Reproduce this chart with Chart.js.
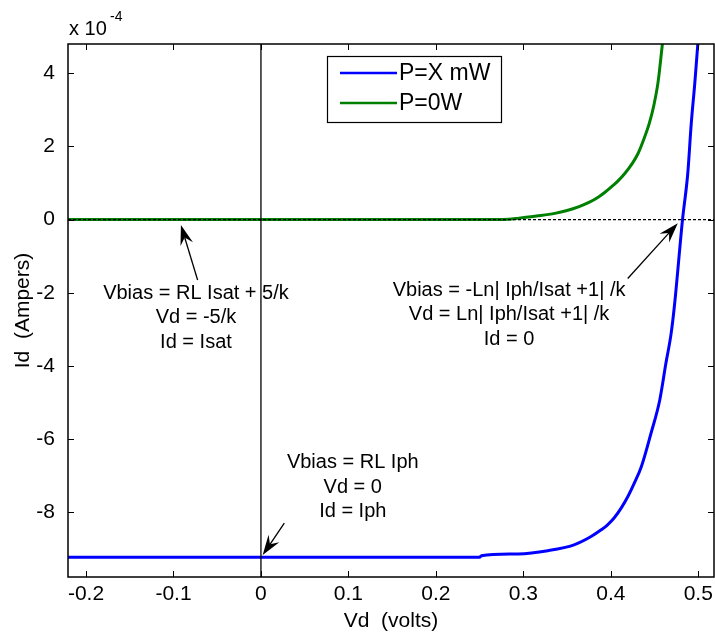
<!DOCTYPE html>
<html>
<head>
<meta charset="utf-8">
<script src="https://cdn.jsdelivr.net/npm/chart.js@4.4.1/dist/chart.umd.min.js"></script>
<style>
  html, body { margin: 0; padding: 0; background: #ffffff; }
  #wrap { width: 715px; height: 637px; }
</style>
</head>
<body>
<div id="wrap"><canvas id="chart" width="715" height="637"></canvas></div>
<script>
// Vd in volts, Id in units of 1e-4 A
const vdLight = [-0.2206, 0.25, 0.252, 0.294, 0.328, 0.358, 0.377, 0.389, 0.396, 0.404, 0.412, 0.420, 0.427, 0.435, 0.446, 0.456, 0.463, 0.469, 0.473, 0.482, 0.488, 0.492, 0.496, 0.4995];
const idLight = [-9.23, -9.23, -9.19, -9.14, -9.05, -8.89, -8.67, -8.48, -8.35, -8.15, -7.88, -7.55, -7.20, -6.75, -5.84, -4.93, -3.93, -3.11, -2.30, 0, 1.26, 2.63, 3.72, 4.8];

const vdDark = [-0.2206, 0.25, 0.283, 0.295, 0.309, 0.320, 0.336, 0.350, 0.363, 0.375, 0.386, 0.393, 0.401, 0.408, 0.416, 0.425, 0.431, 0.437, 0.444, 0.449, 0.454, 0.459];
const idDark = [0, 0, 0.01, 0.04, 0.08, 0.11, 0.17, 0.25, 0.35, 0.47, 0.62, 0.74, 0.90, 1.05, 1.26, 1.55, 1.80, 2.15, 2.63, 3.10, 3.75, 4.8];

const seriesLabels = ["P=X mW", "P=0W"];
const seriesColors = ["#0000ff", "#008000"];

const xTicks = [-0.2, -0.1, 0, 0.1, 0.2, 0.3, 0.4, 0.5];
const yTicks = [-8, -6, -4, -2, 0, 2, 4];
const xRange = [-0.2206, 0.518];
const yRange = [-9.77, 4.8];

// text notes: lines + data position of the first line's centre
const noteLines = [
    ["Vbias = RL Isat + 5/k", "Vd = -5/k", "Id = Isat"],
    ["Vbias = -Ln| Iph/Isat +1| /k", "Vd = Ln| Iph/Isat +1| /k", "Id = 0"],
    ["Vbias = RL Iph", "Vd = 0", "Id = Iph"]
];
const noteAnchors = [[-0.0743, -2.01], [0.2837, -1.93], [0.105, -6.65]];

// arrows: [tailX, tailY, tipX, tipY] in data units
const arrowList = [
    [-0.0724, -1.65, -0.0915, -0.15],
    [0.4194, -1.61, 0.4766, -0.10],
    [0.0267, -8.30, 0.002, -9.17]
];

const FONT = "'Liberation Sans', Arial, Helvetica, sans-serif";

const toPoints = (xs, ys) => xs.map((x, i) => ({ x: x, y: ys[i] }));

const drawArrow = (ctx, x0, y0, x1, y1) => {
    const dx = x1 - x0, dy = y1 - y0;
    const len = Math.hypot(dx, dy);
    const ux = dx / len, uy = dy / len;
    const px = -uy, py = ux;
    const L = 20, W = 13, notch = 13;
    ctx.save();
    ctx.strokeStyle = "#000";
    ctx.lineWidth = 1.3;
    ctx.beginPath();
    ctx.moveTo(x0, y0);
    ctx.lineTo(x1 - ux * notch, y1 - uy * notch);
    ctx.stroke();
    ctx.fillStyle = "#000";
    ctx.beginPath();
    ctx.moveTo(x1, y1);
    ctx.lineTo(x1 - ux * L + px * W / 2, y1 - uy * L + py * W / 2);
    ctx.lineTo(x1 - ux * notch, y1 - uy * notch);
    ctx.lineTo(x1 - ux * L - px * W / 2, y1 - uy * L - py * W / 2);
    ctx.closePath();
    ctx.fill();
    ctx.restore();
};

const framePlugin = {
    id: "frame",
    afterDatasetsDraw(chart) {
        const ctx = chart.ctx;
        const a = chart.chartArea;
        const xs = chart.scales.x, ys = chart.scales.y;
        ctx.save();

        // box + inward ticks
        ctx.strokeStyle = "#000";
        ctx.lineWidth = 1.5;
        ctx.strokeRect(a.left, a.top, a.right - a.left, a.bottom - a.top);
        ctx.lineWidth = 1;
        ctx.beginPath();
        for (let v of xTicks) {
            const px = Math.round(xs.getPixelForValue(v)) + 0.5;
            ctx.moveTo(px, a.bottom); ctx.lineTo(px, a.bottom - 6);
            ctx.moveTo(px, a.top); ctx.lineTo(px, a.top + 6);
        }
        for (let v of yTicks) {
            const py = Math.round(ys.getPixelForValue(v)) + 0.5;
            ctx.moveTo(a.left, py); ctx.lineTo(a.left + 6, py);
            ctx.moveTo(a.right, py); ctx.lineTo(a.right - 6, py);
        }
        ctx.stroke();

        // exponent label
        ctx.fillStyle = "#000";
        ctx.textAlign = "left";
        ctx.textBaseline = "alphabetic";
        ctx.font = "20px " + FONT;
        ctx.fillText("x 10", a.left + 1, 35);
        ctx.font = "14px " + FONT;
        ctx.fillText("-4", a.left + 42, 21);

        // notes
        ctx.font = "20px " + FONT;
        ctx.textAlign = "center";
        ctx.textBaseline = "middle";
        noteLines.forEach((lines, i) => {
            const cx = xs.getPixelForValue(noteAnchors[i][0]);
            const cy = ys.getPixelForValue(noteAnchors[i][1]);
            lines.forEach((t, j) => ctx.fillText(t, cx, cy + j * 24.5));
        });

        // arrows
        for (let ar of arrowList) {
            drawArrow(ctx,
                xs.getPixelForValue(ar[0]), ys.getPixelForValue(ar[1]),
                xs.getPixelForValue(ar[2]), ys.getPixelForValue(ar[3]));
        }

        // legend
        const bx = a.left + 259, by = a.top + 12, bw = 174, bh = 66;
        ctx.fillStyle = "#fff";
        ctx.fillRect(bx, by, bw, bh);
        ctx.strokeStyle = "#000";
        ctx.lineWidth = 1.2;
        ctx.strokeRect(bx + 0.5, by + 0.5, bw, bh);
        ctx.font = "23px " + FONT;
        ctx.textAlign = "left";
        ctx.textBaseline = "middle";
        seriesLabels.forEach((lab, i) => {
            const ly = by + 17 + i * 30;
            ctx.strokeStyle = seriesColors[i];
            ctx.lineWidth = 2.5;
            ctx.beginPath();
            ctx.moveTo(bx + 13, ly); ctx.lineTo(bx + 70, ly);
            ctx.stroke();
            ctx.fillStyle = "#000";
            ctx.fillText(lab, bx + 72, ly + 1);
        });
        ctx.restore();
    }
};

new Chart(document.getElementById("chart"), {
    type: "line",
    data: {
        datasets: [
            {
                label: seriesLabels[0],
                data: toPoints(vdLight, idLight),
                borderColor: seriesColors[0],
                borderWidth: 3,
                pointRadius: 0,
                cubicInterpolationMode: "monotone",
                order: 2
            },
            {
                label: seriesLabels[1],
                data: toPoints(vdDark, idDark),
                borderColor: seriesColors[1],
                borderWidth: 3,
                pointRadius: 0,
                cubicInterpolationMode: "monotone",
                order: 2
            },
            {
                label: "zero-x",
                data: [{ x: 0, y: yRange[0] }, { x: 0, y: yRange[1] }],
                borderColor: "#000",
                borderWidth: 1.3,
                pointRadius: 0,
                order: 0
            },
            {
                label: "zero-y",
                data: [{ x: xRange[0], y: 0 }, { x: xRange[1], y: 0 }],
                borderColor: "#000",
                borderWidth: 1.2,
                borderDash: [3, 2],
                pointRadius: 0,
                order: 0
            }
        ]
    },
    options: {
        responsive: false,
        animation: false,
        devicePixelRatio: 1,
        layout: { padding: { top: 44, right: 1, left: 0, bottom: 0 } },
        plugins: {
            legend: { display: false },
            tooltip: { enabled: false }
        },
        scales: {
            x: {
                type: "linear",
                min: xRange[0],
                max: xRange[1],
                grid: { display: false },
                border: { display: false },
                afterBuildTicks: (s) => { s.ticks = xTicks.map((v) => ({ value: v })); },
                afterFit: (s) => { s.height = 60; s.paddingLeft = 0; s.paddingRight = 0; },
                ticks: {
                    color: "#000",
                    font: { family: FONT, size: 21 },
                    padding: -3,
                    maxRotation: 0,
                    callback: (v) => String(v)
                },
                title: {
                    display: true,
                    text: "Vd  (volts)",
                    color: "#000",
                    font: { family: FONT, size: 21 },
                    padding: { top: 0, bottom: 3 }
                }
            },
            y: {
                type: "linear",
                min: yRange[0],
                max: yRange[1],
                grid: { display: false },
                border: { display: false },
                afterBuildTicks: (s) => { s.ticks = yTicks.map((v) => ({ value: v })); },
                afterFit: (s) => { s.width = 68; s.paddingTop = 0; s.paddingBottom = 0; },
                ticks: {
                    color: "#000",
                    font: { family: FONT, size: 21 },
                    padding: 5,
                    callback: (v) => String(v)
                },
                title: {
                    display: true,
                    text: "Id  (Ampers)",
                    color: "#000",
                    font: { family: FONT, size: 21 },
                    padding: { top: 11, bottom: 0 }
                }
            }
        }
    },
    plugins: [framePlugin]
});
</script>
</body>
</html>
